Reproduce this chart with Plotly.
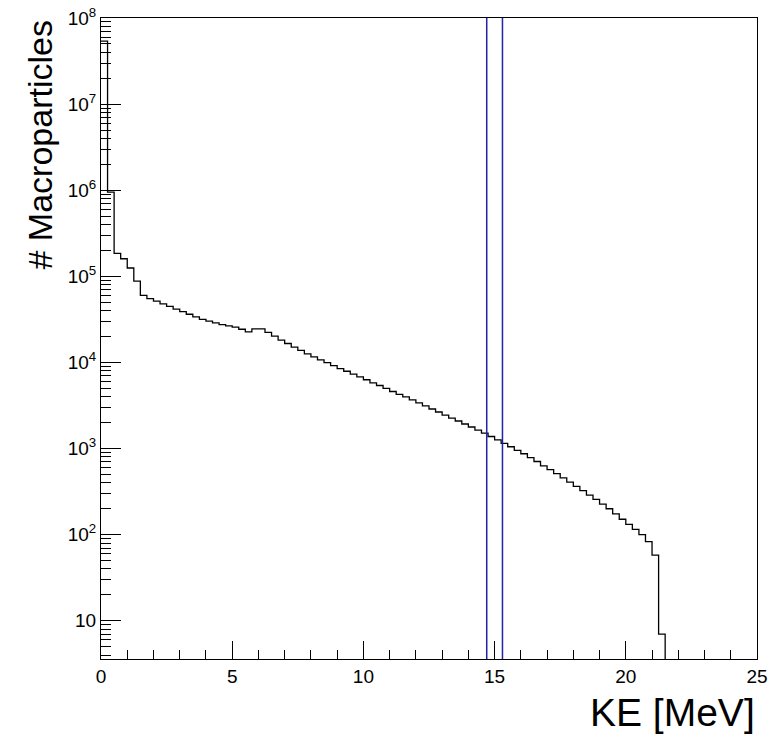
import numpy as np
import plotly.graph_objects as go

# ---- data ----
bin_width = 0.25
counts = [
    5.4e7, 9.5e5, 1.85e5, 1.6e5, 1.25e5, 8.8e4, 6.0e4, 5.5e4,
    5.16e4, 4.79e4, 4.47e4, 4.17e4, 3.89e4, 3.63e4, 3.39e4, 3.16e4,
    3.02e4, 2.88e4, 2.75e4, 2.66e4, 2.57e4, 2.43e4, 2.26e4, 2.45e4,
    2.45e4, 2.24e4, 2.02e4, 1.82e4, 1.66e4, 1.51e4, 1.38e4, 1.26e4,
    1.16e4, 1.07e4, 9.95e3, 9.2e3, 8.5e3, 7.9e3, 7.3e3, 6.8e3,
    6.3e3, 5.8e3, 5.4e3, 5.0e3, 4.6e3, 4.27e3, 3.98e3, 3.67e3,
    3.39e3, 3.13e3, 2.88e3, 2.66e3, 2.45e3, 2.26e3, 2.09e3, 1.93e3,
    1.78e3, 1.64e3, 1.51e3, 1.38e3, 1.26e3, 1.15e3, 1.05e3, 955,
    871, 785, 708, 631, 569, 513, 457, 407,
    363, 324, 288, 257, 226, 200, 174, 151,
    132, 115, 100, 83, 58, 7, 0, 0,
    0, 0, 0, 0, 0, 0, 0, 0,
    0, 0, 0, 0,
]
cut_lines = [14.7, 15.3]
x_ticks = [0, 5, 10, 15, 20, 25]
y_tickvals = [10, 1e2, 1e3, 1e4, 1e5, 1e6, 1e7, 1e8]
y_ticktext = ["10", "10<sup>2</sup>", "10<sup>3</sup>", "10<sup>4</sup>",
              "10<sup>5</sup>", "10<sup>6</sup>", "10<sup>7</sup>", "10<sup>8</sup>"]
x_title = "KE [MeV]"
y_title = "# Macroparticles"

# ---- build step outline ----
n = len(counts)
edges = np.arange(n + 1) * bin_width
floor_val = 1e-2  # empty bins drawn below the visible range (clipped)
vals = [c if c > 0 else floor_val for c in counts]
xs = list(edges[:-1]) + [edges[-1]]
ys = vals + [vals[-1]]

FONT = "Liberation Sans, Arial, Helvetica, sans-serif"

fig = go.Figure()
fig.add_trace(go.Scatter(
    x=xs, y=ys, mode="lines", line=dict(shape="hv", color="black", width=1.3),
    hoverinfo="skip", showlegend=False))

for xc in cut_lines:
    fig.add_shape(type="line", xref="x", yref="paper", x0=xc, x1=xc, y0=0, y1=1,
                  line=dict(color="#2222aa", width=1.5))

minor_y = [m * 10 ** d for d in range(0, 8) for m in range(2, 10)]

fig.update_xaxes(
    range=[0, 25], tickvals=x_ticks, ticks="inside", ticklen=18, tickwidth=1,
    tickcolor="black", showline=True, linecolor="black", linewidth=1, mirror=True,
    showgrid=False, zeroline=False, automargin=False,
    tickfont=dict(family=FONT, size=19, color="black"),
    minor=dict(dtick=1, ticks="inside", ticklen=9, tickcolor="black", showgrid=False),
)
fig.update_yaxes(
    type="log", range=[np.log10(3.6), 8], tickvals=y_tickvals, ticktext=y_ticktext,
    ticks="inside", ticklen=20, tickwidth=1, tickcolor="black",
    showline=True, linecolor="black", linewidth=1, mirror=True,
    showgrid=False, zeroline=False, automargin=False,
    tickfont=dict(family=FONT, size=19, color="black"),
    minor=dict(tickmode="array", tickvals=minor_y, ticks="inside", ticklen=10,
               tickcolor="black", showgrid=False),
)

fig.add_annotation(text=x_title, xref="paper", yref="paper", x=1.0, y=-0.083,
                   xanchor="right", yanchor="middle", showarrow=False,
                   font=dict(family=FONT, size=39, color="black"))
fig.add_annotation(text=y_title, xref="paper", yref="paper", x=-0.093, y=1.0,
                   xanchor="center", yanchor="top", textangle=-90, showarrow=False,
                   font=dict(family=FONT, size=34, color="black"))

fig.update_layout(
    width=769, height=735,
    margin=dict(l=101, r=12, t=18, b=76, autoexpand=False),
    paper_bgcolor="white", plot_bgcolor="white",
    font=dict(family=FONT, color="black"),
)

fig.write_html("out.html", config={"displayModeBar": False},
               post_script="document.body.style.margin='0';document.body.style.overflow='hidden';")
